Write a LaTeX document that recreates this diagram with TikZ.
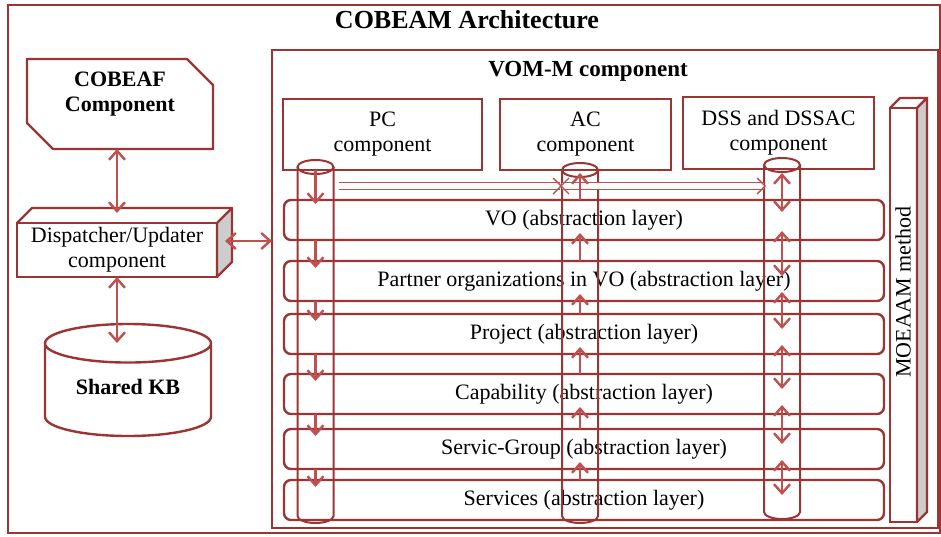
\documentclass[tikz,border=0pt]{standalone}
\usepackage{fontspec}
\setmainfont{Liberation Serif}
\usetikzlibrary{shapes.geometric,shapes.misc,arrows.meta,calc}
\definecolor{brickred}{RGB}{155,52,50}
\definecolor{arrowred}{RGB}{192,80,77}
\definecolor{sidegray}{RGB}{205,205,205}

\begin{document}
\begin{tikzpicture}[
        x=0.5pt, y=-0.5pt,
        font=\fontsize{11}{12.5}\selectfont,
        frame/.style={draw=brickred, line width=1.2pt, outer sep=0pt, inner sep=0pt},
        compbox/.style={frame, rectangle, align=center},
        layer/.style={frame, rounded corners=3.5pt, minimum width=300pt, minimum height=20pt},
        tube/.style={rectangle, outer sep=0pt, inner sep=0pt, minimum width=18pt},
        tubeline/.style={draw=brickred, line width=1pt},
        flow/.style={draw=arrowred, line width=1.2pt, -{Straight Barb[length=4.5pt,width=8pt]}},
        biflow/.style={flow, {Straight Barb[length=4.5pt,width=8pt]}-{Straight Barb[length=4.5pt,width=8pt]}},
        pipe/.style={draw=arrowred, line width=0.7pt, double=white, double distance=2.6pt}
    ]
    \useasboundingbox (0,0) rectangle (941,536);

    % outer frame
    \node[frame, minimum width=466pt, minimum height=264pt] (cobeam) at (474,269) {};
    \node[font=\fontsize{13}{15}\selectfont\bfseries] (title) at (467,20) {COBEAM Architecture};

    % left column
    \node[frame, chamfered rectangle, chamfered rectangle corners={north east,south west},
        chamfered rectangle xsep=7pt, chamfered rectangle ysep=6pt,
        minimum width=93pt, minimum height=45pt, align=center, font=\fontsize{11}{12.5}\selectfont\bfseries]
        (cobeaf) at (120,104) {COBEAF\\Component\\ \mbox{}};
    \node[compbox, minimum width=100pt, minimum height=27pt] (disp) at (117,250)
        {Dispatcher/Updater\\component};
    \filldraw[frame, fill=sidegray, line join=round] (disp.north east) -- ++(15,-15)
        -- ([shift={(15,-15)}]disp.south east) -- (disp.south east) -- cycle;
    \draw[frame, line join=round] (disp.north west) -- ++(15,-15) -- ++(200,0);
    \node[frame, cylinder, shape border rotate=90, aspect=0.37, minimum width=83pt,
        minimum height=56pt, anchor=north, font=\fontsize{11}{12.5}\selectfont\bfseries]
        (kb) at (128,324) {\raisebox{3pt}{Shared KB}};

    % VOM-M component
    \node[frame, minimum width=333pt, minimum height=239pt] (vom) at (605,289) {};
    \node[font=\fontsize{11.5}{13}\selectfont\bfseries] (vomtitle) at (588,71) {VOM-M component};
    \node[compbox, minimum width=99.5pt, minimum height=35.5pt] (pc) at (382.5,134.5) {PC\\component};
    \node[compbox, minimum width=85.5pt, minimum height=35.5pt] (ac) at (585.5,134.5) {AC\\component};
    \node[compbox, minimum width=95.5pt, minimum height=36pt] (dss) at (778.5,133) {DSS and DSSAC\\component};

    % MOEAAM method
    \node[frame, minimum width=13.5pt, minimum height=207pt] (moe) at (903.5,315) {};
    \draw[frame, line join=round] (moe.north west) -- ++(10,-10) -- ++(27,0) -- (moe.north east);
    \filldraw[frame, fill=sidegray, line join=round] (moe.north east) -- ++(10,-10)
        -- ([shift={(10,-10)}]moe.south east) -- (moe.south east) -- cycle;
    \node[rotate=90] (moetext) at (903,292) {MOEAAM method};

    % abstraction layers
    \node[layer] (vo) at (584,220) {VO (abstraction layer)};
    \node[layer] (partner) at (584,281) {Partner organizations in VO (abstraction layer)};
    \node[layer] (project) at (584,334) {Project (abstraction layer)};
    \node[layer] (cap) at (584,394) {Capability (abstraction layer)};
    \node[layer] (sg) at (584,449) {Servic-Group (abstraction layer)};
    \node[layer] (services) at (584,500) {Services (abstraction layer)};

    % tubes
    \node[tube, minimum height=181.5pt] (pctube) at (315.5,341.5) {};
    \node[tube, minimum height=180pt] (actube) at (580,343) {};
    \node[tube, minimum height=180.5pt] (dsstube) at (782,338.5) {};
    \draw[tubeline] ([yshift=-3.5pt]pctube.north) ellipse [x radius=9pt, y radius=3.5pt];
    \draw[tubeline] ([yshift=-3.5pt]pctube.north west) -- ([yshift=3.5pt]pctube.south west)
        arc [start angle=180, end angle=360, x radius=9pt, y radius=3.5pt] -- ([yshift=-3.5pt]pctube.north east);
    \draw[tubeline] ([yshift=-3.5pt]actube.north) ellipse [x radius=9pt, y radius=3.5pt];
    \draw[tubeline] ([yshift=-3.5pt]actube.north west) -- ([yshift=3.5pt]actube.south west)
        arc [start angle=180, end angle=360, x radius=9pt, y radius=3.5pt] -- ([yshift=-3.5pt]actube.north east);
    \draw[tubeline] ([yshift=-3.5pt]dsstube.north) ellipse [x radius=9pt, y radius=3.5pt];
    \draw[tubeline] ([yshift=-3.5pt]dsstube.north west) -- ([yshift=3.5pt]dsstube.south west)
        arc [start angle=180, end angle=360, x radius=9pt, y radius=3.5pt] -- ([yshift=-3.5pt]dsstube.north east);

    % left arrows
    \draw[biflow] (cobeaf.south -| disp.north) -- ([yshift=5pt]disp.north);
    \draw[biflow] (disp.south) -- ([yshift=-9.5pt]disp.south |- kb.north);
    \coordinate (dispside) at ($(disp.east)+(8,-9)$);
    \draw[biflow] (dispside) -- (dispside -| vom.west);

    % pipes between components
    \coordinate (pipestart) at ([xshift=2.5pt,yshift=-8pt]pctube.east |- pc.south);
    \draw[pipe, -{Straight Barb[length=4pt,width=8pt]}] (pipestart) -- (pipestart -| actube.west);
    \draw[pipe, {Straight Barb[length=4pt,width=8pt]}-{Straight Barb[length=4pt,width=8pt]}]
        ([xshift=-1pt]pipestart -| actube.west) -- ([xshift=1pt]pipestart -| dsstube.west);

    % PC tube
    \draw[flow] (pc.south -| pctube.center) -- ([yshift=-2pt]vo.north -| pctube.center);
    \draw[flow] (vo.south -| pctube.center) -- ([yshift=-3.5pt]partner.north -| pctube.center);
    \draw[flow] (partner.south -| pctube.center) -- ([yshift=-3.5pt]project.north -| pctube.center);
    \draw[flow] (project.south -| pctube.center) -- ([yshift=-3.5pt]cap.north -| pctube.center);
    \draw[flow] (cap.south -| pctube.center) -- ([yshift=-3.5pt]sg.north -| pctube.center);
    \draw[flow] (sg.south -| pctube.center) -- ([yshift=-3.5pt]services.north -| pctube.center);

    % AC tube
    \draw[flow] (vo.north -| actube.center) -- ([yshift=-5pt]actube.north);
    \draw[flow] (partner.north -| actube.center) -- ([yshift=3.5pt]vo.south -| actube.center);
    \draw[flow] (project.north -| actube.center) -- ([yshift=3.5pt]partner.south -| actube.center);
    \draw[flow] (cap.north -| actube.center) -- ([yshift=3.5pt]project.south -| actube.center);
    \draw[flow] (sg.north -| actube.center) -- ([yshift=3.5pt]cap.south -| actube.center);
    \draw[flow] (services.north -| actube.center) -- ([yshift=3.5pt]sg.south -| actube.center);

    % DSS tube
    \draw[biflow] ([yshift=-7.5pt]dsstube.north) -- ([yshift=-6pt]vo.north -| dsstube.center);
    \draw[biflow] ([yshift=4.5pt]vo.south -| dsstube.center) -- ([yshift=-7.5pt]partner.north -| dsstube.center);
    \draw[biflow] ([yshift=4.5pt]partner.south -| dsstube.center) -- ([yshift=-7.5pt]project.north -| dsstube.center);
    \draw[biflow] ([yshift=4.5pt]project.south -| dsstube.center) -- ([yshift=-7.5pt]cap.north -| dsstube.center);
    \draw[biflow] ([yshift=4.5pt]cap.south -| dsstube.center) -- ([yshift=-7.5pt]sg.north -| dsstube.center);
    \draw[biflow] ([yshift=4.5pt]sg.south -| dsstube.center) -- ([yshift=-7.5pt]services.north -| dsstube.center);
\end{tikzpicture}
\end{document}
